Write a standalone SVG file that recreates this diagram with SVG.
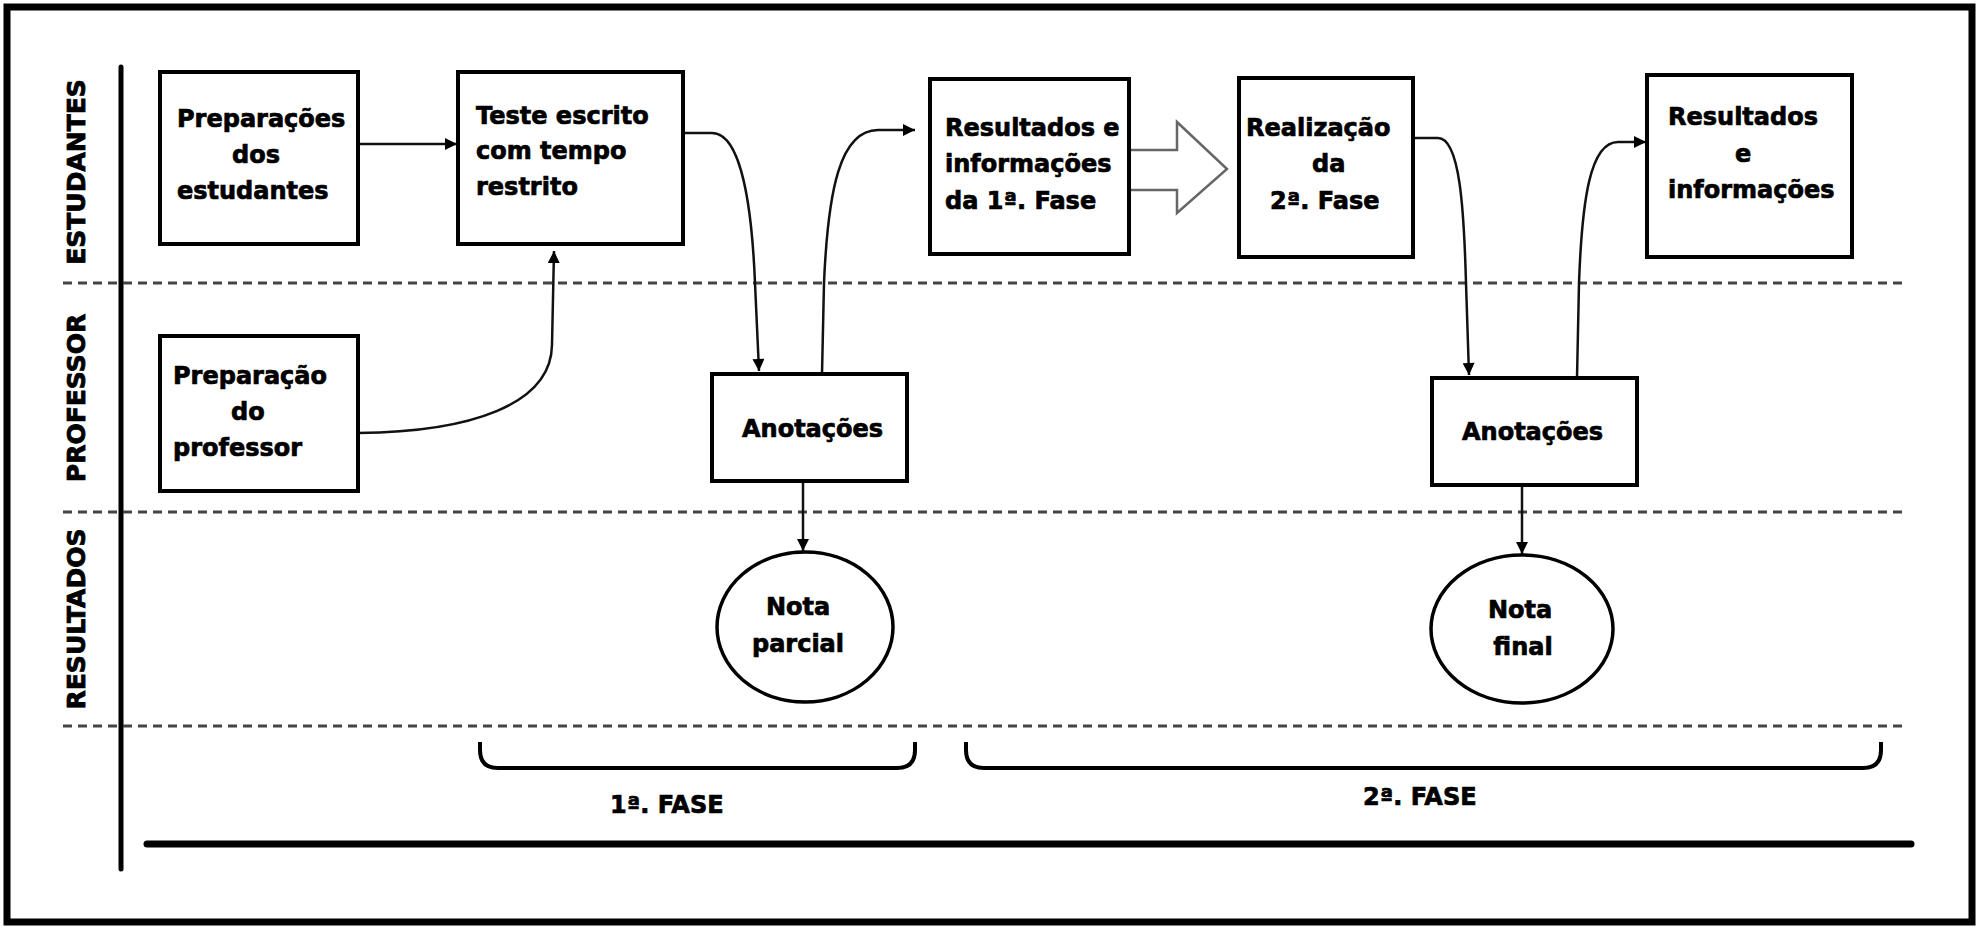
<svg xmlns="http://www.w3.org/2000/svg" width="1981" height="927" viewBox="0 0 1981 927">
<defs>
<style>
.box{fill:#fff;stroke:#000;stroke-width:4}
.ell{fill:#fff;stroke:#000;stroke-width:3.5}
.t{font-family:"DejaVu Sans","Liberation Sans",sans-serif;font-weight:bold;font-size:24px;fill:#000;stroke:#000;stroke-width:0.7}
.lane{font-family:"DejaVu Sans","Liberation Sans",sans-serif;font-weight:bold;font-size:25px;fill:#000;stroke:#000;stroke-width:0.8;text-anchor:middle;dominant-baseline:central}
.dash{stroke:#444;stroke-width:3;stroke-dasharray:9 6;fill:none}
.con{fill:none;stroke:#111;stroke-width:2.5}
.brace{fill:none;stroke:#000;stroke-width:4}
.mid{text-anchor:middle}
</style>
<marker id="ah" viewBox="0 0 10 10" refX="10" refY="5" markerWidth="15" markerHeight="12" markerUnits="userSpaceOnUse" orient="auto"><path d="M0,0 L10,5 L0,10 z" fill="#000"/></marker>
</defs>
<rect width="1981" height="927" fill="#fff"/>
<rect x="7" y="7" width="1965" height="915" fill="none" stroke="#000" stroke-width="7"/>
<g id="frame">
<line x1="121" y1="67" x2="121" y2="869" stroke="#000" stroke-width="5" stroke-linecap="round"/>
<line x1="147" y1="844" x2="1911" y2="844" stroke="#000" stroke-width="7" stroke-linecap="round"/>
<line class="dash" x1="63" y1="283" x2="1905" y2="283"/>
<line class="dash" x1="63" y1="512" x2="1905" y2="512"/>
<line class="dash" x1="63" y1="726" x2="1905" y2="726"/>
<text class="lane" transform="translate(76,172) rotate(-90)">ESTUDANTES</text>
<text class="lane" transform="translate(76,398) rotate(-90)">PROFESSOR</text>
<text class="lane" transform="translate(76,619) rotate(-90)">RESULTADOS</text>
<path class="brace" d="M480,742 V750 Q480,768 498,768 H897 Q915,768 915,750 V742"/>
<path class="brace" d="M966,742 V750 Q966,768 984,768 H1863 Q1881,768 1881,750 V742"/>
<text class="t" x="610" y="813">1ª. FASE</text>
<text class="t" x="1363" y="805">2ª. FASE</text>
</g>
<g id="connectors">
<path class="con" d="M358,144 H457" marker-end="url(#ah)"/>
<path class="con" d="M358,433 C470,432 551,405 552,345 L554,251" marker-end="url(#ah)"/>
<path class="con" d="M684,133 H712 C742,133 752,210 755,283 L759,371" marker-end="url(#ah)"/>
<path class="con" d="M822,374 L824,283 C828,190 840,130 878,130 H915" marker-end="url(#ah)"/>
<path class="con" d="M1415,138 H1438 C1460,138 1464,210 1466,283 L1469,375" marker-end="url(#ah)"/>
<path class="con" d="M1577,378 L1579,283 C1582,200 1590,142 1618,142 H1646" marker-end="url(#ah)"/>
<path class="con" d="M803,482 V551" marker-end="url(#ah)"/>
<path class="con" d="M1522,486 V554" marker-end="url(#ah)"/>
<path d="M1129,150 H1177 V122 L1227,169 L1177,213 V190 H1129" fill="#fff" stroke="#666" stroke-width="2.5"/>
</g>
<g id="n1">
<rect class="box" x="160" y="72" width="198" height="172"/>
<text class="t" x="177" y="127">Preparações</text>
<text class="t" x="232" y="163">dos</text>
<text class="t" x="177" y="199">estudantes</text>
</g>
<g id="n2">
<rect class="box" x="458" y="72" width="225" height="172"/>
<text class="t" x="476" y="124">Teste escrito</text>
<text class="t" x="476" y="159">com tempo</text>
<text class="t" x="476" y="195">restrito</text>
</g>
<g id="n3">
<rect class="box" x="160" y="336" width="198" height="155"/>
<text class="t" x="173" y="384">Preparação</text>
<text class="t" x="231" y="420">do</text>
<text class="t" x="173" y="456">professor</text>
</g>
<g id="n4">
<rect class="box" x="930" y="79" width="199" height="175"/>
<text class="t" x="945" y="136">Resultados e</text>
<text class="t" x="945" y="172">informações</text>
<text class="t" x="945" y="209">da 1ª.  Fase</text>
</g>
<g id="n5">
<rect class="box" x="1239" y="78" width="174" height="179"/>
<text class="t" x="1246" y="136">Realização</text>
<text class="t" x="1312" y="172">da</text>
<text class="t" x="1270" y="209">2ª. Fase</text>
</g>
<g id="n6">
<rect class="box" x="1647" y="75" width="205" height="182"/>
<text class="t" x="1668" y="125">Resultados</text>
<text class="t" x="1735" y="162">e</text>
<text class="t" x="1668" y="198">informações</text>
</g>
<g id="n7">
<rect class="box" x="712" y="374" width="195" height="107"/>
<text class="t" x="742" y="437">Anotações</text>
</g>
<g id="n8">
<rect class="box" x="1432" y="378" width="205" height="107"/>
<text class="t" x="1462" y="440">Anotações</text>
</g>
<g id="n9">
<ellipse class="ell" cx="805" cy="627" rx="88" ry="75"/>
<text class="t mid" x="798" y="615">Nota</text>
<text class="t mid" x="798" y="652">parcial</text>
</g>
<g id="n10">
<ellipse class="ell" cx="1522" cy="629" rx="91" ry="74"/>
<text class="t mid" x="1520" y="618">Nota</text>
<text class="t mid" x="1523" y="655">final</text>
</g>
</svg>
